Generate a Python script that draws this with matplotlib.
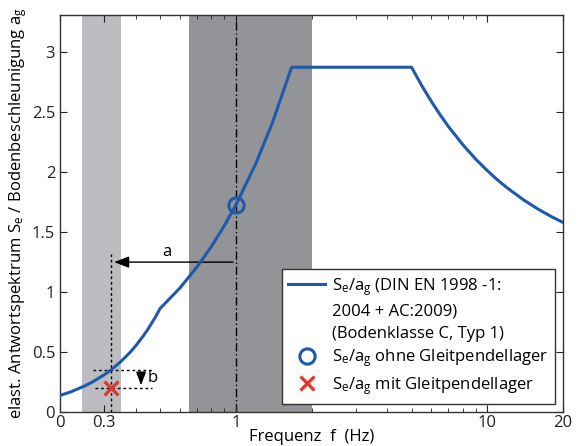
import numpy as np
from matplotlib import pyplot as plt
from matplotlib.lines import Line2D
from matplotlib.ticker import FixedLocator, LogLocator, NullFormatter

plt.rcParams['font.family'] = ['Open Sans', 'DejaVu Sans']
plt.rcParams['mathtext.fontset'] = 'custom'
plt.rcParams['mathtext.rm'] = 'Open Sans'
plt.rcParams['mathtext.it'] = 'Open Sans'

# Antwortspektrum Se/ag (Bodenklasse C, Typ 1) ueber der Frequenz
freq = [0.2, 0.22, 0.25, 0.27, 0.3, 0.32, 0.35, 0.38, 0.4, 0.43, 0.45, 0.48, 0.5,
        0.6, 0.7, 0.8, 0.9, 1.0, 1.2, 1.4, 1.667,
        5.0, 5.5, 6.0, 6.5, 7.0, 8.0, 9.0, 10.0, 11.0, 12.0, 14.0, 16.0, 18.0, 20.0]
se_ag = [0.138, 0.167, 0.216, 0.252, 0.311, 0.353, 0.423, 0.498, 0.552, 0.638, 0.699, 0.795, 0.863,
         1.035, 1.208, 1.380, 1.553, 1.725, 2.070, 2.415, 2.875,
         2.875, 2.718, 2.588, 2.477, 2.382, 2.228, 2.108, 2.013, 1.934, 1.869, 1.766, 1.689, 1.629, 1.581]

f_ohne, se_ohne = 1.0, 1.725      # ohne Gleitpendellager
f_mit, se_mit = 0.32, 0.20        # mit Gleitpendellager
se_mit_kurve = 0.353

band_hell = (0.245, 0.35)
band_dunkel = (0.65, 2.0)

xticks = [0.2, 0.3, 1, 10, 20]
xticklabels = ['0', '0.3', '1', '10', '20']
yticks = [0, 0.5, 1, 1.5, 2, 2.5, 3]
yticklabels = ['0', '0.5', '1', '1.5', '2', '2.5', '3']

blau = '#1f59ab'
rot = '#e8322c'

fig = plt.figure(figsize=(5.81, 4.46), dpi=100)
ax = fig.add_axes([0.1033, 0.0762, 0.8657, 0.8900])

ax.axvspan(*band_hell, color='#bcbdc1', lw=0, zorder=0)
ax.axvspan(*band_dunkel, color='#939497', lw=0, zorder=0)
ax.axvline(1.0, color='k', lw=1.0, ls=(0, (6, 2, 1, 2)), zorder=1)

kurve, = ax.plot(freq, se_ag, color=blau, lw=2.2, zorder=3)
kreis, = ax.plot(f_ohne, se_ohne, 'o', ms=11, mfc='none', mec=blau, mew=2.2, zorder=4)
kreuz, = ax.plot(f_mit, se_mit, 'x', ms=10, mec=rot, mew=2.3, zorder=4)

# Hilfslinien a und b
ax.plot([f_mit, f_mit], [0, 1.32], color='k', lw=1.0, ls=(0, (2, 2)), zorder=2)
ax.plot([0.27, 0.465], [se_mit_kurve, se_mit_kurve], color='k', lw=1.0, ls=(0, (2, 2)), zorder=2)
ax.plot([0.275, 0.465], [se_mit, se_mit], color='k', lw=1.0, ls=(0, (2, 2)), zorder=2)
ax.annotate('', xy=(f_mit, 1.25), xytext=(1.0, 1.25),
            arrowprops=dict(arrowstyle='-|>,head_length=0.9,head_width=0.35', color='k', lw=1.0), zorder=2)
ax.annotate('', xy=(0.42, se_mit), xytext=(0.42, se_mit_kurve),
            arrowprops=dict(arrowstyle='-|>,head_length=0.8,head_width=0.3', color='k', lw=1.0), zorder=2)
ax.text(0.53, 1.27, 'a', fontsize=12, ha='center', va='bottom')
ax.text(0.445, 0.285, 'b', fontsize=12, ha='left', va='center')

ax.set_xscale('log')
ax.set_xlim(0.2, 20)
ax.set_ylim(0, 3.31)
ax.xaxis.set_major_locator(FixedLocator(xticks))
ax.set_xticklabels(xticklabels)
ax.xaxis.set_minor_locator(LogLocator(base=10, subs=np.arange(2, 10)))
ax.xaxis.set_minor_formatter(NullFormatter())
ax.set_yticks(yticks)
ax.set_yticklabels(yticklabels)
ax.tick_params(which='both', direction='in', top=True, right=True, labelsize=12, colors='#222222')
ax.tick_params(axis='x', pad=2)
ax.tick_params(which='major', length=5)
ax.tick_params(which='minor', length=3)
for s in ax.spines.values():
    s.set_color('#333333')
    s.set_linewidth(1.0)

ax.set_xlabel('Frequenz  f  (Hz)', fontsize=12, labelpad=-1)
ax.set_ylabel('elast. Antwortspektrum S$_e$ / Bodenbeschleunigung a$_g$', fontsize=12, labelpad=2)

# Legende: Kurvenbeschreibung auf drei Zeilen, Linie neben der ersten Zeile
leer = Line2D([], [], color='none')
handles = [kurve, leer, leer, kreis, kreuz]
labels = ['S$_e$/a$_g$ (DIN EN 1998 -1:', '2004 + AC:2009)', '(Bodenklasse C, Typ 1)',
          'S$_e$/a$_g$ ohne Gleitpendellager', 'S$_e$/a$_g$ mit Gleitpendellager']
leg = ax.legend(handles, labels, loc='lower right', fontsize=12, frameon=True, fancybox=False,
                edgecolor='#333333', framealpha=1, borderaxespad=0.5,
                handlelength=2.2, handletextpad=0.4, labelspacing=0.35, borderpad=0.4)
leg.get_frame().set_linewidth(1.0)

fig.savefig('out.png', dpi=100)
